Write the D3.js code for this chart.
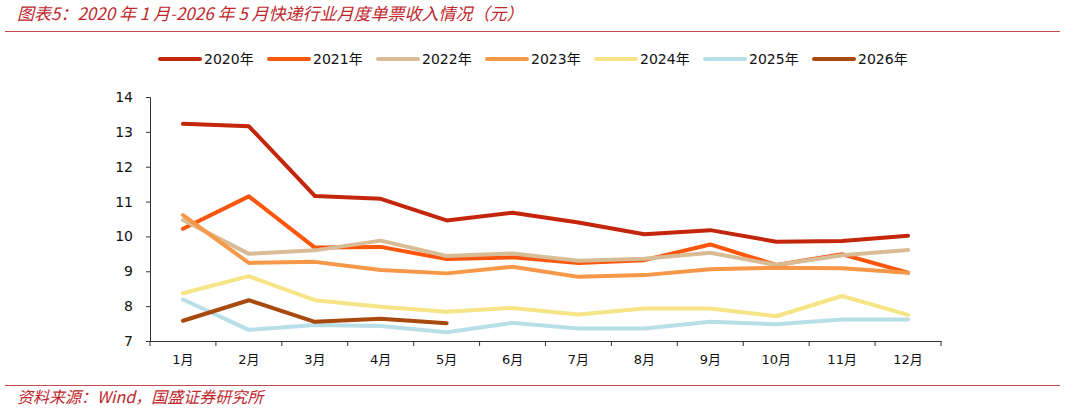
<!DOCTYPE html>
<html>
<head>
<meta charset="utf-8">
<script src="https://cdn.jsdelivr.net/npm/d3@7"></script>
<style>
  body { margin: 0; background: #fff; }
  svg { display: block; }
</style>
</head>
<body>
<div id="chart"></div>
<script>
const width = 1065;
const height = 411;

// data
const months = ['1月', '2月', '3月', '4月', '5月', '6月', '7月', '8月', '9月', '10月', '11月', '12月'];
const years = ['2020年', '2021年', '2022年', '2023年', '2024年', '2025年', '2026年'];
const y2020 = [13.23, 13.16, 11.16, 11.08, 10.46, 10.68, 10.40, 10.06, 10.18, 9.85, 9.87, 10.02];
const y2021 = [10.22, 11.15, 9.68, 9.70, 9.35, 9.40, 9.24, 9.32, 9.77, 9.18, 9.49, 8.96];
const y2022 = [10.47, 9.50, 9.60, 9.88, 9.44, 9.51, 9.30, 9.36, 9.53, 9.18, 9.46, 9.61];
const y2023 = [10.61, 9.24, 9.27, 9.04, 8.94, 9.13, 8.84, 8.89, 9.06, 9.10, 9.09, 8.96];
const y2024 = [8.37, 8.86, 8.17, 7.98, 7.84, 7.95, 7.76, 7.93, 7.93, 7.71, 8.29, 7.75];
const y2025 = [8.19, 7.32, 7.46, 7.43, 7.25, 7.52, 7.36, 7.36, 7.55, 7.48, 7.62, 7.62];
const y2026 = [7.58, 8.17, 7.55, 7.64, 7.51];
const yTicks = [7, 8, 9, 10, 11, 12, 13, 14];

const colors = ['#C3260A', '#FC560D', '#D8BC95', '#F79748', '#F5E587', '#B8DEE8', '#A8490D'];
const seriesValues = [y2020, y2021, y2022, y2023, y2024, y2025, y2026];
const series = years.map((name, i) => ({ name: name, color: colors[i], values: seriesValues[i] }));

const red = '#C0272D';

const svg = d3.select('#chart')
  .append('svg')
  .attr('width', width)
  .attr('height', height);

// title
svg.append('text')
  .attr('x', 17)
  .attr('y', 20)
  .text('图表5：2020 年 1 月-2026 年 5 月快递行业月度单票收入情况（元）')
  .style('font-family', '"Noto Sans CJK SC", sans-serif')
  .style('font-style', 'italic')
  .style('font-size', '17px')
  .style('fill', red);

svg.append('line')
  .attr('x1', 5).attr('x2', 1060)
  .attr('y1', 31.5).attr('y2', 31.5)
  .style('stroke', '#C0504D')
  .style('stroke-width', 1);

svg.append('line')
  .attr('x1', 5).attr('x2', 1060)
  .attr('y1', 385.5).attr('y2', 385.5)
  .style('stroke', '#C0504D')
  .style('stroke-width', 1);

svg.append('text')
  .attr('x', 17)
  .attr('y', 403)
  .text('资料来源：Wind，国盛证券研究所')
  .style('font-family', '"Noto Sans CJK SC", sans-serif')
  .style('font-style', 'italic')
  .style('font-size', '16px')
  .style('fill', red);

// scales
const x = d3.scaleBand()
  .domain(months)
  .range([150, 941]);

const y = d3.scaleLinear()
  .domain([7, 14])
  .range([341, 97]);

// axes
const yAxis = svg.append('g')
  .attr('transform', 'translate(150,0)')
  .call(d3.axisLeft(y).tickValues(yTicks).tickFormat(d3.format('d')).tickSize(4).tickPadding(13));

yAxis.select('.domain').style('stroke', '#333');
yAxis.selectAll('.tick line').style('stroke', '#333');
yAxis.selectAll('text')
  .style('font-family', '"DejaVu Sans", sans-serif')
  .style('font-size', '14px')
  .style('fill', '#111');

const xAxis = svg.append('g')
  .attr('transform', 'translate(0,341)')
  .call(d3.axisBottom(x).tickSize(0).tickPadding(14));

xAxis.select('.domain').style('stroke', '#333');
xAxis.selectAll('text')
  .style('font-family', '"DejaVu Sans", "Noto Sans CJK SC", sans-serif')
  .style('font-size', '13px')
  .style('fill', '#111');

// tick marks on category boundaries
xAxis.selectAll('.bound')
  .data(months.concat(['end']))
  .enter()
  .append('line')
  .attr('class', 'bound')
  .attr('x1', (d, i) => i < months.length ? x(d) : x(months[months.length - 1]) + x.bandwidth())
  .attr('x2', (d, i) => i < months.length ? x(d) : x(months[months.length - 1]) + x.bandwidth())
  .attr('y1', 0)
  .attr('y2', 5)
  .style('stroke', '#333');

// lines
const line = d3.line()
  .x((d, i) => x(months[i]) + x.bandwidth() / 2)
  .y(d => y(d));

svg.selectAll('.series')
  .data(series)
  .enter()
  .append('path')
  .attr('class', 'series')
  .attr('d', d => line(d.values))
  .style('fill', 'none')
  .style('stroke', d => d.color)
  .style('stroke-width', 4)
  .style('stroke-linecap', 'round')
  .style('stroke-linejoin', 'round');

// legend
const legend = svg.selectAll('.legend')
  .data(series)
  .enter()
  .append('g')
  .attr('class', 'legend')
  .attr('transform', (d, i) => `translate(${160 + i * 109},59)`);

legend.append('line')
  .attr('x1', 0).attr('x2', 40)
  .attr('y1', 0).attr('y2', 0)
  .style('stroke', d => d.color)
  .style('stroke-width', 4)
  .style('stroke-linecap', 'round');

legend.append('text')
  .attr('x', 44)
  .attr('y', 5)
  .text(d => d.name)
  .style('font-family', '"DejaVu Sans", "Noto Sans CJK SC", sans-serif')
  .style('font-size', '14px')
  .style('fill', '#111');
</script>
</body>
</html>
